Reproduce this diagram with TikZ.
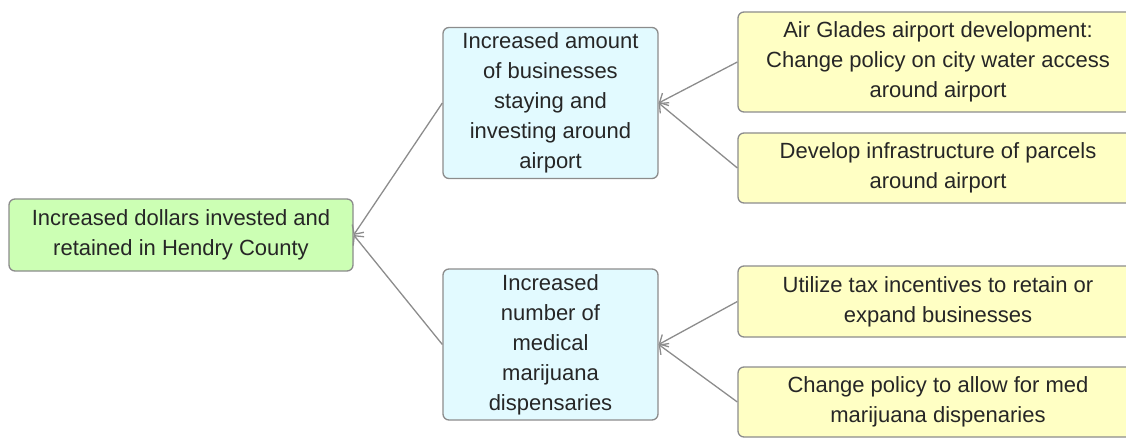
\documentclass[tikz,border=0pt]{standalone}
\usepackage{fontspec}
\setmainfont{Liberation Sans}
\usepackage{tikz}
\usetikzlibrary{arrows.meta}
\definecolor{goalgreen}{HTML}{CCFFB4}
\definecolor{outcomeblue}{HTML}{E2FAFF}
\definecolor{actionyellow}{HTML}{FFFFC4}
\definecolor{edgegray}{HTML}{8C8C8C}

\begin{document}
\begin{tikzpicture}[x=1pt, y=-1pt,
	box/.style={draw=edgegray, line width=1.3pt, rounded corners=6pt, align=center, inner sep=0pt,
		font=\fontsize{22}{30}\selectfont, text=black!85},
	goal/.style={box, fill=goalgreen},
	outcome/.style={box, fill=outcomeblue, minimum width=215pt, minimum height=151pt},
	action/.style={box, fill=actionyellow, minimum width=400pt},
	link/.style={draw=edgegray, line width=1.3pt, -{Straight Barb[length=7pt,width=14pt]}}]
	\useasboundingbox (0,0) rectangle (1126,438);
	\node[goal, minimum width=344pt, minimum height=72pt] (goal) at (181,235) {Increased dollars invested and\\retained in Hendry County};
	\node[outcome] (airport) at (550.5,103) {Increased amount\\of businesses\\staying and\\investing around\\airport};
	\node[outcome] (dispensary) at (550.5,344.5) {Increased\\number of\\medical\\marijuana\\dispensaries};
	\node[action, minimum height=100pt] (water) at (938,62) {Air Glades airport development:\\Change policy on city water access\\around airport};
	\node[action, minimum height=70pt] (parcels) at (938,168) {Develop infrastructure of parcels\\around airport};
	\node[action, minimum height=71pt] (tax) at (938,301.5) {Utilize tax incentives to retain or\\expand businesses};
	\node[action, minimum height=70pt] (policy) at (938,402) {Change policy to allow for med\\marijuana dispenaries};
	\draw[link] (airport.west) -- (goal.east);
	\draw[link] (dispensary.west) -- (goal.east);
	\draw[link] (water.west) -- (airport.east);
	\draw[link] (parcels.west) -- (airport.east);
	\draw[link] (tax.west) -- (dispensary.east);
	\draw[link] (policy.west) -- (dispensary.east);
\end{tikzpicture}
\end{document}
